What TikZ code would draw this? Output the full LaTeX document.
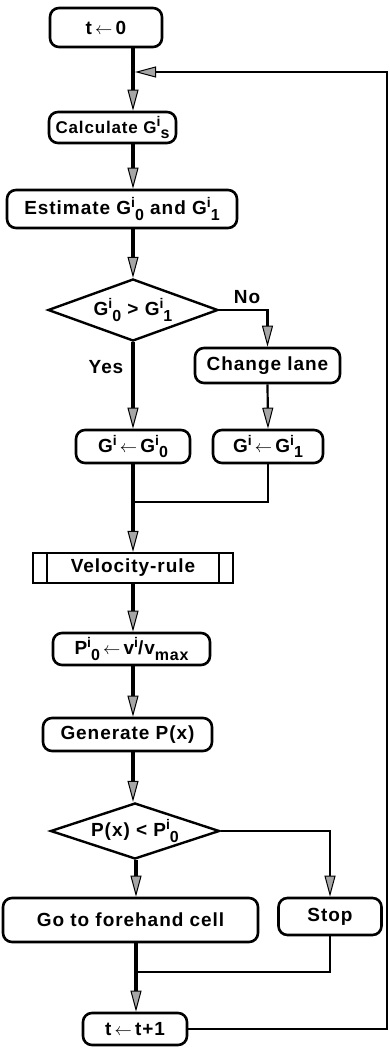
\documentclass[tikz,border=0pt]{standalone}
\usepackage{fontspec}
\setmainfont{Liberation Sans}[LetterSpace=5]
\usetikzlibrary{arrows.meta,shapes.geometric}
\newcommand\up[1]{\raisebox{0.38em}{\fontsize{14}{14}\selectfont #1}}
\newcommand\dn[1]{\raisebox{-0.28em}{\fontsize{16}{16}\selectfont #1}}
\newcommand\larr{\,$\leftarrow$\,}
\tikzset{
  gtip/.tip={Triangle[length=21pt,width=11pt,line width=1pt,fill=gray!70]},
  rbox/.style={draw, line width=2.6pt, rounded corners=9pt, inner sep=0pt},
  pbox/.style={draw, line width=2.2pt, inner sep=0pt},
  dbox/.style={draw, diamond, aspect=3, line width=2.4pt, inner sep=0pt},
  trunk/.style={line width=4pt},
  side/.style={line width=2.2pt},
  lbl/.style={inner sep=0pt}
}
\begin{document}
\begin{tikzpicture}[x=1pt,y=-1pt,font=\fontsize{19}{21}\selectfont\bfseries]
\useasboundingbox (0,0) rectangle (389,1048);
% nodes
\node[rbox, minimum width=112pt, minimum height=39pt] (t0) at (106,27.5) {t\larr0};
\node[rbox, minimum width=127pt, minimum height=31pt, font=\fontsize{17}{19}\selectfont\bfseries] (calc) at (112.5,127.5) {Calculate G\up{i}\dn{s}};
\node[rbox, minimum width=230pt, minimum height=38pt] (est) at (122,209) {Estimate G\up{i}\dn{0} and G\up{i}\dn{1}};
\node[dbox, minimum width=170pt, minimum height=62pt] (d1) at (133,310) {G\up{i}\dn{0} > G\up{i}\dn{1}};
\node[rbox, minimum width=145pt, minimum height=35pt] (change) at (267.5,365.5) {Change lane};
\node[rbox, minimum width=114pt, minimum height=33pt] (gi0) at (133,446.5) {G\up{i}\larr G\up{i}\dn{0}};
\node[rbox, minimum width=110pt, minimum height=33pt] (gi1) at (268,446.5) {G\up{i}\larr G\up{i}\dn{1}};
\node[pbox, minimum width=200pt, minimum height=30pt] (vel) at (133,568) {Velocity-rule};
\draw[line width=2.2pt] ([xshift=15pt]vel.north west) -- ([xshift=15pt]vel.south west);
\draw[line width=2.2pt] ([xshift=-15pt]vel.north east) -- ([xshift=-15pt]vel.south east);
\node[rbox, minimum width=157pt, minimum height=32pt] (pb) at (131.5,649) {P\up{i}\dn{0}\larr v\up{i}/v\dn{max}};
\node[rbox, minimum width=169pt, minimum height=33pt] (gen) at (127.5,734.5) {Generate P(x)};
\node[dbox, minimum width=169pt, minimum height=56pt] (d2) at (135,831) {P(x) < P\up{i}\dn{0}};
\node[rbox, minimum width=255pt, minimum height=44pt] (fore) at (130.5,920) {Go to forehand cell};
\node[rbox, minimum width=103pt, minimum height=37pt] (stop) at (330,916.5) {Stop};
\node[rbox, minimum width=104pt, minimum height=32pt] (t1) at (135,1029) {t\larr t+1};
\node[lbl] (yes) at (106,367) {Yes};
\node[lbl] (no) at (247,297) {No};
% coordinates
\coordinate (X) at (133,0);
\coordinate (X2) at (136,0);
\coordinate (join) at (135,72);
\coordinate (cR) at (387,72);
\coordinate (m1) at (133,502);
\coordinate (m2) at (136,972);
% connectors
\draw[trunk,-gtip] (t0.south -| X) -- (calc.north -| X);
\draw[trunk,-gtip] (calc.south -| X) -- (est.north -| X);
\draw[trunk,-gtip] (est.south -| X) -- (d1.north);
\draw[trunk,-gtip] (d1.south) -- (gi0.north);
\draw[side,-gtip] (d1.east) -| (change.north);
\draw[side,-gtip] (change.south) -- (gi1.north);
\draw[trunk] (gi0.south) -- (m1);
\draw[side] (gi1.south) |- (m1);
\draw[trunk,-gtip] (m1) -- (vel.north);
\draw[trunk,-gtip] (vel.south -| X) -- (pb.north -| X);
\draw[trunk,-gtip] (pb.south -| X) -- (gen.north -| X);
\draw[trunk,-gtip] (gen.south -| X) -- (d2.north -| X);
\draw[trunk,-gtip] (d2.south -| X2) -- (fore.north -| X2);
\draw[side,-gtip] (d2.east) -| (stop.north);
\draw[trunk] (fore.south -| X2) -- (m2);
\draw[side] (stop.south) |- (m2);
\draw[trunk,-gtip] (m2) -- (t1.north -| X2);
\draw[side,-gtip] (t1.east) -| (cR) -- (join);
\end{tikzpicture}
\end{document}
